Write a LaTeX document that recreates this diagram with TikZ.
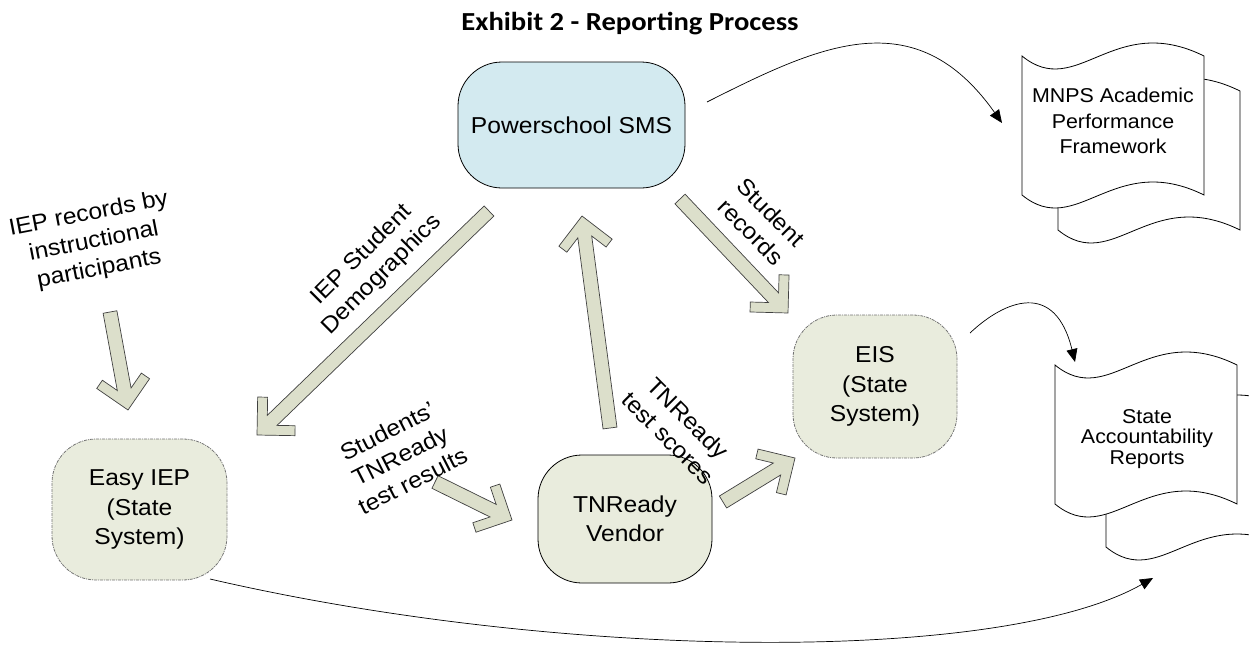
\documentclass[tikz,border=0pt]{standalone}
\usepackage{fontspec}
\setmainfont{Liberation Sans}[FakeStretch=1.07]
\newfontfamily\headfont{Carlito}[FakeStretch=1.1]
\usetikzlibrary{calc,arrows.meta}

\definecolor{smsblue}{RGB}{211,234,240}
\definecolor{sysgreen}{RGB}{233,236,221}
\definecolor{pipegreen}{RGB}{220,223,203}

% one sheet of a report, top left corner at (#1,#2)
\newcommand{\sheet}[2]{\draw[line width=0.8pt, fill=white] (#1,#2) .. controls ({#1+55},{#2+45}) and ({#1+91},{#2-45}) .. ({#1+182},#2)
	-- ({#1+182},{#2+139}) .. controls ({#1+91},{#2+94}) and ({#1+55},{#2+184}) .. (#1,{#2+139}) -- cycle}

% open block arrow, tail #1, tip #2
\newcommand{\blockarrow}[2]{\draw[blockarr] let \p1 = ($(#2)-(#1)$), \n1 = {atan2(\y1,\x1)} in
	(#2) -- ($(#2)+(\n1+135:38pt)$) -- ($(#2)+(\n1+180:33.9pt)+(\n1+90:19.8pt)$)
	-- ($(#2)+(\n1+180:21.1pt)+(\n1+90:7pt)$) -- ($(#1)+(\n1+90:7pt)$)
	-- ($(#1)+(\n1-90:7pt)$) -- ($(#2)+(\n1+180:21.1pt)+(\n1-90:7pt)$)
	-- ($(#2)+(\n1+180:33.9pt)+(\n1-90:19.8pt)$) -- ($(#2)+(\n1-135:38pt)$) -- cycle}

\begin{document}
\begin{tikzpicture}[x=1pt, y=-1pt,
	sys/.style={draw=black!55, line width=0.8pt, dash pattern=on 3pt off 1pt on 1pt off 1pt,
		fill=sysgreen, rounded corners=44pt, align=center, font=\fontsize{23}{29.5}\selectfont},
	lbl/.style={align=center, inner sep=0pt, font=\fontsize{23}{28}\selectfont},
	blockarr/.style={draw=black!75, fill=pipegreen, line width=0.7pt},
	feed/.style={line width=0.7pt, -{Triangle[length=13pt,width=11pt]}}]
\useasboundingbox (0,0) rectangle (1249,654);

\node[anchor=base, font=\headfont\bfseries\fontsize{26}{30}\selectfont] (title) at (630,30) {Exhibit 2 - Reporting Process};

% report sheets, back one first
\sheet{1058}{91};
\sheet{1022}{56};
\sheet{1106}{408};
\sheet{1055}{365};
\node[align=center, font=\fontsize{20}{25.5}\selectfont] (mnps) at (1113,121) {MNPS Academic\\Performance\\Framework};
\node[align=center, font=\fontsize{20}{20.5}\selectfont] (state) at (1147,439) {State\\Accountability\\Reports};

% systems
\node[sys, draw=black, solid, fill=smsblue, minimum width=227pt, minimum height=126pt] (ps) at (571.5,125) {Powerschool SMS};
\node[sys, minimum width=175pt, minimum height=141pt] (easy) at (139.5,509.5) {Easy IEP\\(State\\System)};
\node[sys, draw=black, solid, minimum width=174pt, minimum height=128pt] (tnr) at (625,519) {TNReady\\Vendor};
\node[sys, minimum width=164pt, minimum height=143pt] (eis) at (875,386.5) {EIS\\(State\\System)};

% thin links to the reports
\coordinate (ps-out) at (707,102);
\coordinate (mnps-in) at (1002,123);
\coordinate (eis-out) at (970,333);
\coordinate (state-in) at (1075,362);
\coordinate (easy-out) at (210,579);
\coordinate (state-in2) at (1153,578);
\draw[feed] (ps-out) .. controls (820,45) and (915,0) .. (mnps-in);
\draw[feed] (eis-out) .. controls (1005,300) and (1055,280) .. (state-in);
\draw[feed] (easy-out) .. controls (560,660) and (1000,665) .. (state-in2);

% data flows
\coordinate (rec-a) at (110,312);   \coordinate (rec-b) at (128,410);
\coordinate (demo-a) at (489,211);  \coordinate (demo-b) at (257,435);
\coordinate (res-a) at (435,482);   \coordinate (res-b) at (512,520);
\coordinate (up-a) at (610,428);    \coordinate (up-b) at (582,216);
\coordinate (srec-a) at (680,199);  \coordinate (srec-b) at (788,313);
\coordinate (score-a) at (723,502); \coordinate (score-b) at (795,458);
\blockarrow{rec-a}{rec-b};
\blockarrow{demo-a}{demo-b};
\blockarrow{res-a}{res-b};
\blockarrow{up-a}{up-b};
\blockarrow{srec-a}{srec-b};
\blockarrow{score-a}{score-b};

\node[lbl, rotate=11] (rec-lbl) at (94,242) {IEP records by\\instructional\\participants};
\node[lbl, rotate=45] (demo-lbl) at (372,265) {IEP Student\\Demographics};
\node[lbl, rotate=27] (res-lbl) at (400,456) {Students’\\TNReady\\test results};
\node[lbl, rotate=-45] (srec-lbl) at (761,222) {Student\\records};
\node[lbl, rotate=-45] (score-lbl) at (678,428) {TNReady\\test scores};
\end{tikzpicture}
\end{document}
